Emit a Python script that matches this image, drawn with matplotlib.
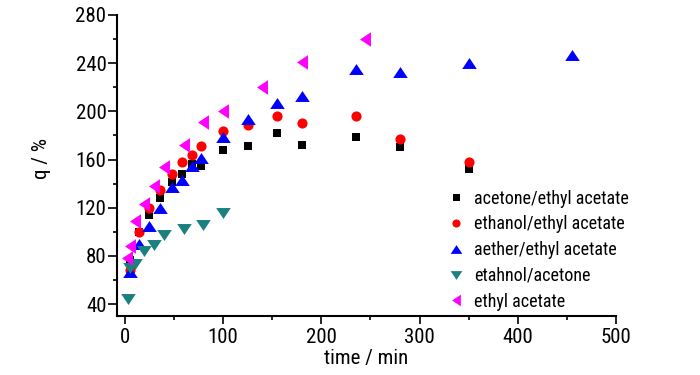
import numpy as np
from matplotlib import pyplot as plt
from matplotlib.ticker import MultipleLocator

plt.rcParams['font.family'] = ['Roboto Condensed', 'DejaVu Sans']

# data
t_main = [5, 15, 25, 36, 48, 58, 68, 78, 100, 125, 155, 180, 235, 280, 350]
q_acetone_ea = [77, 100, 114, 128, 141, 148, 156, 155, 168, 171, 182, 172, 179, 170, 152]
q_ethanol_ea = [68, 100, 120, 135, 148, 158, 164, 171, 184, 189, 196, 190, 196, 177, 158]

t_aether = [5, 15, 25, 36, 48, 58, 68, 78, 100, 125, 155, 180, 235, 280, 350, 455]
q_aether_ea = [67, 90, 105, 120, 137, 143, 155, 161, 179, 194, 207, 213, 235, 233, 240, 247]

t_eth_ace = [3, 5, 10, 20, 30, 40, 60, 80, 100]
q_eth_ace = [44, 70, 73, 84, 89, 97, 102, 106, 116]

t_ea = [2, 5, 10, 20, 30, 40, 60, 80, 100, 140, 180, 245]
q_ea = [78, 88, 109, 123, 138, 154, 172, 191, 200, 220, 241, 260]

labels = ['acetone/ethyl acetate', 'ethanol/ethyl acetate', 'aether/ethyl acetate',
          'etahnol/acetone', 'ethyl acetate']

# flattened triangles like the original
up = [(-1, -0.75), (1, -0.75), (0, 0.75)]
down = [(-1, 0.75), (1, 0.75), (0, -0.75)]
left = [(0.75, -1), (0.75, 1), (-0.75, 0)]

fig = plt.figure(figsize=(7, 3.75), dpi=100)
ax = fig.add_axes([0.167, 0.157, 0.713, 0.803])

ax.plot(t_main, q_acetone_ea, 's', color='black', ms=6.3, mew=0, label=labels[0])
ax.plot(t_main, q_ethanol_ea, 'o', color='#ff0000', ms=7.3, mew=0, label=labels[1])
ax.plot(t_aether, q_aether_ea, marker=up, ls='none', color='#0000ff', ms=10.5, mew=0, label=labels[2])
ax.plot(t_eth_ace, q_eth_ace, marker=down, ls='none', color='#1a8080', ms=10.5, mew=0, label=labels[3])
ax.plot(t_ea, q_ea, marker=left, ls='none', color='#ff00ff', ms=10.5, mew=0, label=labels[4])

ax.set_xlim(-8, 500)
ax.set_ylim(30, 280)
ax.xaxis.set_major_locator(MultipleLocator(100))
ax.xaxis.set_minor_locator(MultipleLocator(50))
ax.yaxis.set_major_locator(MultipleLocator(40))
ax.yaxis.set_minor_locator(MultipleLocator(20))

for s in ['top', 'right']:
    ax.spines[s].set_visible(False)
for s in ['left', 'bottom']:
    ax.spines[s].set_linewidth(1.5)

ax.tick_params(which='major', direction='out', length=5.5, width=1.2, labelsize=15)
ax.tick_params(axis='y', which='major', length=6.5, pad=1)
ax.tick_params(axis='x', which='major', pad=3)
ax.tick_params(which='minor', direction='out', length=3, width=1.2)

ax.set_xlabel('time / min', fontsize=15)
ax.set_ylabel('q / %', fontsize=15)
ax.xaxis.set_label_coords(0.5, -0.11)
ax.yaxis.set_label_coords(-0.132, 0.525)

ax.legend(loc='upper left', bbox_to_anchor=(0.661, 0.42), frameon=False, fontsize=13,
          markerscale=0.8, handlelength=1.0, handletextpad=0.5, labelspacing=0.43,
          borderaxespad=0, borderpad=0)

fig.savefig('out.png', dpi=100)
